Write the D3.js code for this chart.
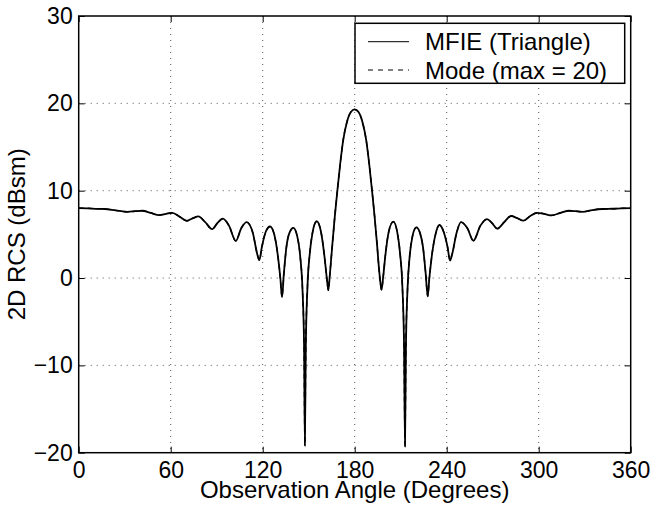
<!DOCTYPE html>
<html>
<head>
<meta charset="utf-8">
<script src="https://cdn.jsdelivr.net/npm/d3@7/dist/d3.min.js"></script>
<style>
  html, body { margin: 0; padding: 0; background: #fff; }
  svg { display: block; font-family: "Liberation Sans", Arial, Helvetica, sans-serif; }
</style>
</head>
<body>
<svg id="chart" width="653" height="512"></svg>
<script>
// Observation angles (degrees) at which the RCS is sampled
const angles = [
  0, 6, 12, 17, 24, 32, 37, 41.5, 47, 52.5, 57, 61, 66, 70.5, 74.5, 78, 82.5, 87,
  90.5, 94, 98, 102.5, 106, 109.5, 113.5, 116.5, 117.8, 119.5, 122, 124.8, 127.5,
  130, 131.5, 132.6, 133.8, 135.5, 137.5, 140, 142.5, 144.5, 146, 147, 147.5, 148.1,
  149.2, 150.7, 152.5, 155.2, 158, 160.2, 161.8, 162.8, 163.8, 165.5, 167, 168.7,
  170.5, 172.5, 175, 177.5, 180,
  182.5, 185, 187.5, 189.5, 191.3, 193, 194.5, 196.2, 197.5, 198.5, 200, 202.2,
  205.2, 207.8, 209.6, 211.1, 212.2, 212.8, 213.4, 214.4, 215.8, 217.7, 220.2,
  222.5, 224.5, 226.3, 227.6, 228.7, 230.2, 232.7, 235.2, 238, 240.5, 242.2, 243.5,
  246.5, 249.3, 253.5, 257.4, 262, 266.3, 269.5, 273, 277.5, 282, 286, 290, 294.5,
  299, 303.5, 308.5, 314, 320, 324, 328.5, 335, 341.5, 348, 354, 360
];

// 2D RCS (dBsm), MFIE solution with triangle basis functions
const mfieRcs = [
  8.0, 7.98, 7.92, 7.9, 7.75, 7.58, 7.65, 7.7, 7.45, 7.2, 7.35, 7.47, 7.0, 6.55, 6.85, 7.05, 6.4, 5.6,
  6.3, 6.8, 6.0, 4.25, 5.7, 6.4, 5.2, 2.7, 2.05, 3.6, 5.3, 5.9, 5.0,
  2.4, 0.0, -2.2, 0.5, 3.6, 5.2, 5.75, 4.8, 2.4, -1.5, -8.0, -19.2, -8.0,
  -1.0, 2.8, 5.2, 6.5, 5.3, 2.6, 0.0, -1.4, 0.4, 4.0, 7.0, 10.0,
  13.0, 15.8, 17.9, 19.0, 19.3,
  19.0, 17.9, 15.8, 13.0, 10.0, 7.0, 4.0, 0.4, -1.37, 0.0, 2.6, 5.3,
  6.45, 5.2, 2.8, -1.0, -8.0, -19.3, -8.0, -1.5, 2.4, 4.8, 5.8,
  5.2, 3.6, 0.5, -2.1, 0.0, 2.4, 5.0, 6.07, 5.3, 3.6, 2.0, 2.7,
  5.2, 6.4, 5.7, 4.27, 6.0, 6.75, 6.3, 5.65, 6.4, 7.1, 6.85, 6.57, 7.1,
  7.47, 7.35, 7.17, 7.45, 7.7, 7.65, 7.58, 7.78, 7.9, 7.93, 7.98, 8.0
];

// 2D RCS (dBsm), modal series solution truncated at 20 modes
const modeRcs = [
  8.0, 7.98, 7.92, 7.9, 7.75, 7.58, 7.65, 7.7, 7.45, 7.2, 7.35, 7.47, 7.0, 6.55, 6.85, 7.05, 6.4, 5.6,
  6.3, 6.8, 6.0, 4.25, 5.7, 6.4, 5.2, 2.7, 2.05, 3.6, 5.3, 5.9, 5.0,
  2.4, 0.0, -2.2, 0.5, 3.6, 5.2, 5.75, 4.8, 2.4, -1.5, -8.0, -19.0, -8.0,
  -1.0, 2.8, 5.2, 6.5, 5.3, 2.6, 0.0, -1.4, 0.4, 4.0, 7.0, 10.0,
  13.0, 15.8, 17.9, 19.0, 19.3,
  19.0, 17.9, 15.8, 13.0, 10.0, 7.0, 4.0, 0.4, -1.37, 0.0, 2.6, 5.3,
  6.45, 5.2, 2.8, -1.0, -8.0, -19.0, -8.0, -1.5, 2.4, 4.8, 5.8,
  5.2, 3.6, 0.5, -2.1, 0.0, 2.4, 5.0, 6.07, 5.3, 3.6, 2.0, 2.7,
  5.2, 6.4, 5.7, 4.27, 6.0, 6.75, 6.3, 5.65, 6.4, 7.1, 6.85, 6.57, 7.1,
  7.47, 7.35, 7.17, 7.45, 7.7, 7.65, 7.58, 7.78, 7.9, 7.93, 7.98, 8.0
];

const xTicks = [0, 60, 120, 180, 240, 300, 360];
const yTicks = [-20, -10, 0, 10, 20, 30];
const seriesNames = ["MFIE (Triangle)", "Mode (max = 20)"];

const plot = { left: 78.7, right: 630.7, top: 16, bottom: 452.7 };

const svg = d3.select("#chart");

const x = d3.scaleLinear().domain([0, 360]).range([plot.left, plot.right]);
const y = d3.scaleLinear().domain([-20, 30]).range([plot.bottom, plot.top]);

// dotted grid
const grid = svg.append("g").attr("stroke", "#555").attr("stroke-width", 1)
  .attr("stroke-dasharray", "1,5");
grid.selectAll("line.gx")
  .data(xTicks.slice(1, -1))
  .join("line")
  .attr("x1", d => x(d)).attr("x2", d => x(d))
  .attr("y1", plot.top).attr("y2", plot.bottom);
grid.selectAll("line.gy")
  .data(yTicks.slice(1, -1))
  .join("line")
  .attr("x1", plot.left).attr("x2", plot.right)
  .attr("y1", d => y(d)).attr("y2", d => y(d));

// data lines
const pts = (vals) => angles.map((a, i) => [a, vals[i]]);
const line = d3.line().x(d => x(d[0])).y(d => y(d[1])).curve(d3.curveMonotoneX);

svg.append("path")
  .attr("d", line(pts(modeRcs)))
  .attr("fill", "none").attr("stroke", "#000").attr("stroke-width", 1.4)
  .attr("stroke-dasharray", "5,4");
svg.append("path")
  .attr("d", line(pts(mfieRcs)))
  .attr("fill", "none").attr("stroke", "#000").attr("stroke-width", 1.8)
  .attr("stroke-linejoin", "round");

// axes with inward ticks
const tickLen = 6;
const styleAxis = g => {
  g.select(".domain").remove();
  g.selectAll(".tick line").attr("stroke", "#000").attr("stroke-width", 1);
  g.selectAll(".tick text").attr("fill", "#000").style("font-size", "23px");
};

svg.append("g")
  .attr("transform", `translate(0,${plot.bottom})`)
  .call(d3.axisBottom(x).tickValues(xTicks).tickFormat(d3.format("d"))
    .tickSizeInner(-tickLen).tickSizeOuter(0).tickPadding(9))
  .call(styleAxis);
svg.append("g")
  .attr("transform", `translate(0,${plot.top})`)
  .call(d3.axisTop(x).tickValues(xTicks).tickFormat("")
    .tickSizeInner(-tickLen).tickSizeOuter(0))
  .call(styleAxis);
svg.append("g")
  .attr("transform", `translate(${plot.left},0)`)
  .call(d3.axisLeft(y).tickValues(yTicks).tickFormat(d3.format("d"))
    .tickSizeInner(-tickLen).tickSizeOuter(0).tickPadding(6))
  .call(styleAxis);
svg.append("g")
  .attr("transform", `translate(${plot.right},0)`)
  .call(d3.axisRight(y).tickValues(yTicks).tickFormat("")
    .tickSizeInner(-tickLen).tickSizeOuter(0))
  .call(styleAxis);

// frame
svg.append("rect")
  .attr("x", plot.left).attr("y", plot.top)
  .attr("width", plot.right - plot.left).attr("height", plot.bottom - plot.top)
  .attr("fill", "none").attr("stroke", "#000").attr("stroke-width", 1.5);

// axis titles
svg.append("text")
  .attr("x", (plot.left + plot.right) / 2).attr("y", 498)
  .attr("text-anchor", "middle").style("font-size", "24px")
  .text("Observation Angle (Degrees)");
svg.append("text")
  .attr("transform", `translate(25,${(plot.top + plot.bottom) / 2}) rotate(-90)`)
  .attr("text-anchor", "middle").style("font-size", "24px")
  .text("2D RCS (dBsm)");

// legend
const legend = svg.append("g");
legend.append("rect")
  .attr("x", 355).attr("y", 23.3).attr("width", 269.7).attr("height", 60)
  .attr("fill", "#fff").attr("stroke", "#000").attr("stroke-width", 1.5);
const rows = [
  { name: seriesNames[0], dash: null, cy: 41.7 },
  { name: seriesNames[1], dash: "5,5", cy: 70 }
];
rows.forEach(r => {
  legend.append("line")
    .attr("x1", 368).attr("x2", 409).attr("y1", r.cy).attr("y2", r.cy)
    .attr("stroke", "#000").attr("stroke-width", 1)
    .attr("stroke-dasharray", r.dash);
  legend.append("text")
    .attr("x", 425).attr("y", r.cy).attr("dy", "0.36em")
    .style("font-size", "24px")
    .text(r.name);
});
</script>
</body>
</html>
